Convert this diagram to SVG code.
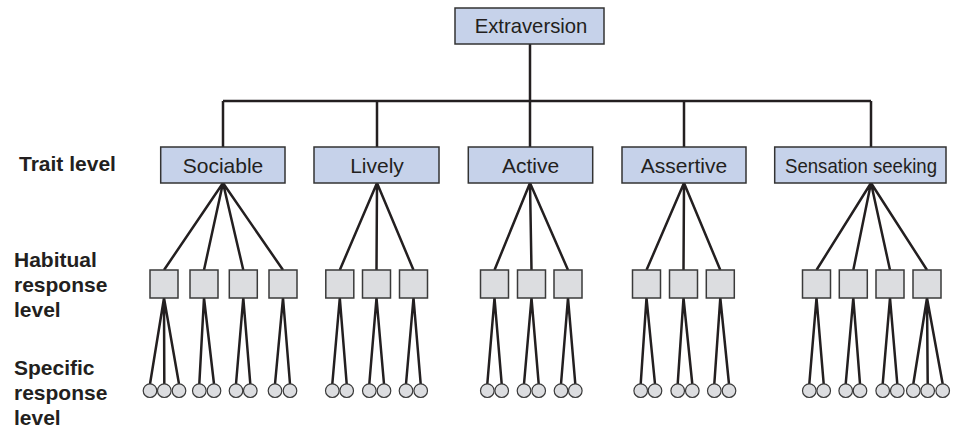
<svg xmlns="http://www.w3.org/2000/svg" width="970" height="429" viewBox="0 0 970 429">
  <style>
    .trait { fill: #c6d2ea; stroke: #333; stroke-width: 1.5; }
    .habit { fill: #dcdde0; stroke: #3a3a3a; stroke-width: 1.5; }
    .spec { fill: #dcdde0; stroke: #3a3a3a; stroke-width: 1.2; }
    .lbl { font-family: "Liberation Sans", Arial, sans-serif; font-size: 21px; fill: #231f20; text-anchor: middle; }
    .side { font-family: "Liberation Sans", Arial, sans-serif; font-size: 21px; font-weight: bold; fill: #231f20; }
    .ln { stroke: #231f20; stroke-width: 2.5; fill: none; stroke-linecap: butt; }
  </style>

  <!-- level labels -->
  <g id="level-labels">
    <text class="side" x="19" y="171">Trait level</text>
    <text class="side" x="14" y="266.5">Habitual</text>
    <text class="side" x="14" y="292">response</text>
    <text class="side" x="14" y="317">level</text>
    <text class="side" x="14" y="374.5">Specific</text>
    <text class="side" x="14" y="400">response</text>
    <text class="side" x="14" y="425">level</text>
  </g>

  <!-- connectors -->
  <g id="connectors" class="ln">
    <!-- top tree -->
    <path d="M530 44V101M223 101H871M223 101V147M377 101V147M530 101V147M684 101V147M871 101V147"/>
    <!-- trait to habitual -->
    <path d="M223 183L164 270M223 183L204 270M223 183L243.3 270M223 183L283 270"/>
    <path d="M377 183L339.8 270M377 183L376.5 270M377 183L413.5 270"/>
    <path d="M530 183L494.5 270M530 183L531.5 270M530 183L568 270"/>
    <path d="M684 183L646.5 270M684 183L683.5 270M684 183L720.3 270"/>
    <path d="M871 183L816.5 270M871 183L853.3 270M871 183L890 270M871 183L927 270"/>
    <!-- habitual to specific -->
    <path d="M164 298L150 384M164 298L164.3 384M164 298L179 384"/>
    <path d="M204 298L199.3 384M204 298L214 384"/>
    <path d="M243.3 298L236 384M243.3 298L250.3 384"/>
    <path d="M283 298L275 384M283 298L290 384"/>
    <path d="M339.8 298L332.3 384M339.8 298L346.7 384"/>
    <path d="M376.5 298L369.3 384M376.5 298L384 384"/>
    <path d="M413.5 298L406 384M413.5 298L420.7 384"/>
    <path d="M494.5 298L487.3 384M494.5 298L501.7 384"/>
    <path d="M531.5 298L524 384M531.5 298L538.7 384"/>
    <path d="M568 298L561 384M568 298L575.3 384"/>
    <path d="M646.5 298L640.7 384M646.5 298L655 384"/>
    <path d="M683.5 298L677.7 384M683.5 298L692.3 384"/>
    <path d="M720.3 298L714.3 384M720.3 298L729 384"/>
    <path d="M816.5 298L809.3 384M816.5 298L823.7 384"/>
    <path d="M853.3 298L845.7 384M853.3 298L860 384"/>
    <path d="M890 298L882.7 384M890 298L897.3 384"/>
    <path d="M927 298L913.3 384M927 298L927.7 384M927 298L942.7 384"/>
  </g>

  <!-- top node -->
  <g id="extraversion">
    <rect class="trait" x="455" y="8" width="149" height="36"/>
    <text class="lbl" x="531" y="33" style="font-size:20.3px">Extraversion</text>
  </g>

  <!-- trait nodes -->
  <g id="sociable">
    <rect class="trait" x="160.7" y="147" width="124.3" height="36"/>
    <text class="lbl" x="223" y="172.5">Sociable</text>
  </g>
  <g id="lively">
    <rect class="trait" x="314" y="147" width="125" height="36"/>
    <text class="lbl" x="377" y="172.5">Lively</text>
  </g>
  <g id="active">
    <rect class="trait" x="468.3" y="147" width="124.4" height="36"/>
    <text class="lbl" x="530.5" y="172.5">Active</text>
  </g>
  <g id="assertive">
    <rect class="trait" x="622" y="147" width="124" height="36"/>
    <text class="lbl" x="684" y="172.5">Assertive</text>
  </g>
  <g id="sensation-seeking">
    <rect class="trait" x="774.7" y="147" width="171.3" height="36"/>
    <text class="lbl" x="861" y="172.5" textLength="152" lengthAdjust="spacingAndGlyphs">Sensation seeking</text>
  </g>

  <!-- habitual response nodes -->
  <g id="habitual">
    <rect class="habit" x="150" y="270" width="28" height="28"/>
    <rect class="habit" x="190" y="270" width="28" height="28"/>
    <rect class="habit" x="229.3" y="270" width="28" height="28"/>
    <rect class="habit" x="269" y="270" width="28" height="28"/>
    <rect class="habit" x="325.8" y="270" width="28" height="28"/>
    <rect class="habit" x="362.5" y="270" width="28" height="28"/>
    <rect class="habit" x="399.5" y="270" width="28" height="28"/>
    <rect class="habit" x="480.5" y="270" width="28" height="28"/>
    <rect class="habit" x="517.5" y="270" width="28" height="28"/>
    <rect class="habit" x="554" y="270" width="28" height="28"/>
    <rect class="habit" x="632.5" y="270" width="28" height="28"/>
    <rect class="habit" x="669.5" y="270" width="28" height="28"/>
    <rect class="habit" x="706.3" y="270" width="28" height="28"/>
    <rect class="habit" x="802.5" y="270" width="28" height="28"/>
    <rect class="habit" x="839.3" y="270" width="28" height="28"/>
    <rect class="habit" x="876" y="270" width="28" height="28"/>
    <rect class="habit" x="913" y="270" width="28" height="28"/>
  </g>

  <!-- specific response nodes -->
  <g id="specific">
    <circle class="spec" cx="150" cy="390.7" r="6.8"/>
    <circle class="spec" cx="164.3" cy="390.7" r="6.8"/>
    <circle class="spec" cx="179" cy="390.7" r="6.8"/>
    <circle class="spec" cx="199.3" cy="390.7" r="6.8"/>
    <circle class="spec" cx="214" cy="390.7" r="6.8"/>
    <circle class="spec" cx="236" cy="390.7" r="6.8"/>
    <circle class="spec" cx="250.3" cy="390.7" r="6.8"/>
    <circle class="spec" cx="275" cy="390.7" r="6.8"/>
    <circle class="spec" cx="290" cy="390.7" r="6.8"/>
    <circle class="spec" cx="332.3" cy="390.7" r="6.8"/>
    <circle class="spec" cx="346.7" cy="390.7" r="6.8"/>
    <circle class="spec" cx="369.3" cy="390.7" r="6.8"/>
    <circle class="spec" cx="384" cy="390.7" r="6.8"/>
    <circle class="spec" cx="406" cy="390.7" r="6.8"/>
    <circle class="spec" cx="420.7" cy="390.7" r="6.8"/>
    <circle class="spec" cx="487.3" cy="390.7" r="6.8"/>
    <circle class="spec" cx="501.7" cy="390.7" r="6.8"/>
    <circle class="spec" cx="524" cy="390.7" r="6.8"/>
    <circle class="spec" cx="538.7" cy="390.7" r="6.8"/>
    <circle class="spec" cx="561" cy="390.7" r="6.8"/>
    <circle class="spec" cx="575.3" cy="390.7" r="6.8"/>
    <circle class="spec" cx="640.7" cy="390.7" r="6.8"/>
    <circle class="spec" cx="655" cy="390.7" r="6.8"/>
    <circle class="spec" cx="677.7" cy="390.7" r="6.8"/>
    <circle class="spec" cx="692.3" cy="390.7" r="6.8"/>
    <circle class="spec" cx="714.3" cy="390.7" r="6.8"/>
    <circle class="spec" cx="729" cy="390.7" r="6.8"/>
    <circle class="spec" cx="809.3" cy="390.7" r="6.8"/>
    <circle class="spec" cx="823.7" cy="390.7" r="6.8"/>
    <circle class="spec" cx="845.7" cy="390.7" r="6.8"/>
    <circle class="spec" cx="860" cy="390.7" r="6.8"/>
    <circle class="spec" cx="882.7" cy="390.7" r="6.8"/>
    <circle class="spec" cx="897.3" cy="390.7" r="6.8"/>
    <circle class="spec" cx="913.3" cy="390.7" r="6.8"/>
    <circle class="spec" cx="927.7" cy="390.7" r="6.8"/>
    <circle class="spec" cx="942.7" cy="390.7" r="6.8"/>
  </g>
</svg>
